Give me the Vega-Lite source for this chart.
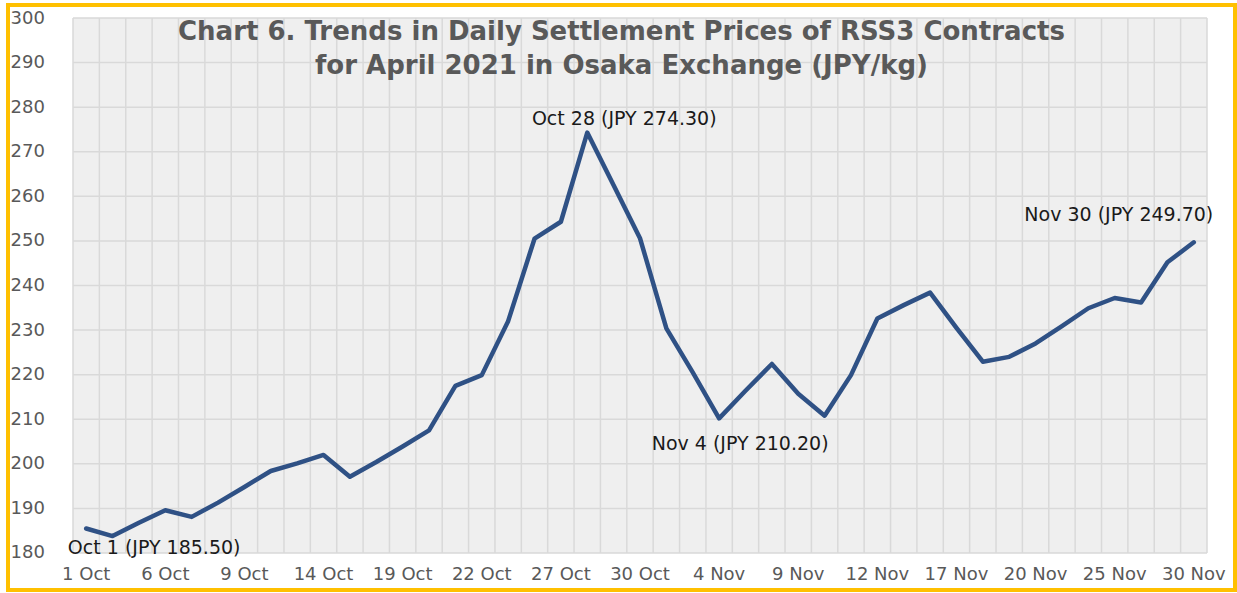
{
  "$schema": "https://vega.github.io/schema/vega-lite/v6.json",
  "width": 1227,
  "height": 585,
  "autosize": {"type": "none"},
  "padding": {"left": 8, "top": 5, "right": 2, "bottom": 3},
  "background": "white",
  "config": {
    "font": "DejaVu Sans",
    "view": {"fill": "white", "stroke": "#FFC000", "strokeWidth": 4}
  },
  "title": {
    "text": ["Chart 6. Trends in Daily Settlement Prices of RSS3 Contracts", "for April 2021 in Osaka Exchange (JPY/kg)"],
    "fontSize": 26,
    "fontWeight": "bold",
    "color": "#595959",
    "anchor": "middle",
    "baseline": "top",
    "lineHeight": 34,
    "offset": -74
  },
  "datasets": {
    "prices": [
      {"date": "1 Oct", "price": 185.5},
      {"date": "4 Oct", "price": 183.8},
      {"date": "5 Oct", "price": 186.8},
      {"date": "6 Oct", "price": 189.6},
      {"date": "7 Oct", "price": 188.1},
      {"date": "8 Oct", "price": 191.3},
      {"date": "9 Oct", "price": 194.8},
      {"date": "12 Oct", "price": 198.4},
      {"date": "13 Oct", "price": 200.1},
      {"date": "14 Oct", "price": 202.0},
      {"date": "15 Oct", "price": 197.1},
      {"date": "18 Oct", "price": 200.4},
      {"date": "19 Oct", "price": 203.9},
      {"date": "20 Oct", "price": 207.5},
      {"date": "21 Oct", "price": 217.5},
      {"date": "22 Oct", "price": 219.9},
      {"date": "25 Oct", "price": 232.0},
      {"date": "26 Oct", "price": 250.5},
      {"date": "27 Oct", "price": 254.3},
      {"date": "28 Oct", "price": 274.3},
      {"date": "29 Oct", "price": 262.5},
      {"date": "30 Oct", "price": 250.6},
      {"date": "2 Nov", "price": 230.4},
      {"date": "3 Nov", "price": 220.5},
      {"date": "4 Nov", "price": 210.2},
      {"date": "5 Nov", "price": 216.4},
      {"date": "8 Nov", "price": 222.4},
      {"date": "9 Nov", "price": 215.7},
      {"date": "10 Nov", "price": 210.8},
      {"date": "11 Nov", "price": 219.9},
      {"date": "12 Nov", "price": 232.6},
      {"date": "15 Nov", "price": 235.6},
      {"date": "16 Nov", "price": 238.4},
      {"date": "17 Nov", "price": 230.5},
      {"date": "18 Nov", "price": 222.9},
      {"date": "19 Nov", "price": 224.0},
      {"date": "20 Nov", "price": 227.0},
      {"date": "23 Nov", "price": 230.9},
      {"date": "24 Nov", "price": 234.9},
      {"date": "25 Nov", "price": 237.2},
      {"date": "26 Nov", "price": 236.2},
      {"date": "29 Nov", "price": 245.2},
      {"date": "30 Nov", "price": 249.7}
    ],
    "levels": [
      {"level": 180}, {"level": 190}, {"level": 200}, {"level": 210}, {"level": 220},
      {"level": 230}, {"level": 240}, {"level": 250}, {"level": 260}, {"level": 270},
      {"level": 280}, {"level": 290}, {"level": 300}
    ]
  },
  "data": {"name": "prices"},
  "encoding": {
    "x": {
      "field": "date",
      "type": "ordinal",
      "sort": null,
      "scale": {
        "type": "band",
        "domain": ["1 Oct", "4 Oct", "5 Oct", "6 Oct", "7 Oct", "8 Oct", "9 Oct", "12 Oct", "13 Oct", "14 Oct", "15 Oct", "18 Oct", "19 Oct", "20 Oct", "21 Oct", "22 Oct", "25 Oct", "26 Oct", "27 Oct", "28 Oct", "29 Oct", "30 Oct", "2 Nov", "3 Nov", "4 Nov", "5 Nov", "8 Nov", "9 Nov", "10 Nov", "11 Nov", "12 Nov", "15 Nov", "16 Nov", "17 Nov", "18 Nov", "19 Nov", "20 Nov", "23 Nov", "24 Nov", "25 Nov", "26 Nov", "29 Nov", "30 Nov"],
        "range": [65, 1199],
        "paddingInner": 0,
        "paddingOuter": 0
      },
      "title": null,
      "axis": {
        "values": ["1 Oct", "6 Oct", "9 Oct", "14 Oct", "19 Oct", "22 Oct", "27 Oct", "30 Oct", "4 Nov", "9 Nov", "12 Nov", "17 Nov", "20 Nov", "25 Nov", "30 Nov"],
        "offset": -37,
        "labelAngle": 0,
        "labelFontSize": 18,
        "labelColor": "#595959",
        "labelPadding": 12,
        "ticks": false,
        "tickSize": 0,
        "domain": false,
        "grid": false,
        "labelOverlap": false
      }
    },
    "y": {
      "field": "price",
      "type": "quantitative",
      "scale": {"domain": [171.7, 302.92], "nice": false, "zero": false},
      "title": null,
      "axis": {
        "values": [180, 190, 200, 210, 220, 230, 240, 250, 260, 270, 280, 290, 300],
        "offset": -65,
        "labelAlign": "left",
        "labelPadding": 63,
        "labelFontSize": 18,
        "labelColor": "#595959",
        "ticks": false,
        "tickSize": 0,
        "domain": false,
        "grid": false
      }
    }
  },
  "layer": [
    {
      "mark": {"type": "rect", "color": "#EFEFEF"},
      "encoding": {
        "y": {"datum": 180, "type": "quantitative"},
        "y2": {"datum": 300}
      }
    },
    {
      "mark": {"type": "rule", "color": "#D9D9D9", "strokeWidth": 1.5},
      "encoding": {
        "x": {"field": "date", "type": "ordinal", "sort": null, "bandPosition": 0, "title": null},
        "y": {"datum": 180, "type": "quantitative"},
        "y2": {"datum": 300}
      }
    },
    {
      "transform": [{"filter": "datum.date === '30 Nov'"}],
      "mark": {"type": "rule", "color": "#D9D9D9", "strokeWidth": 1.5},
      "encoding": {
        "x": {"field": "date", "type": "ordinal", "sort": null, "bandPosition": 1, "title": null},
        "y": {"datum": 180, "type": "quantitative"},
        "y2": {"datum": 300}
      }
    },
    {
      "data": {"name": "levels"},
      "mark": {"type": "rule", "color": "#D9D9D9", "strokeWidth": 1.5},
      "encoding": {
        "x": {"datum": "1 Oct", "type": "ordinal", "bandPosition": 0},
        "x2": {"datum": "30 Nov", "bandPosition": 1},
        "y": {"field": "level", "type": "quantitative"}
      }
    },
    {
      "mark": {"type": "line", "color": "#2F5185", "strokeWidth": 4.5, "strokeJoin": "round", "strokeCap": "round"},
      "encoding": {}
    },
    {
      "transform": [{"filter": "datum.date === '1 Oct'"}],
      "mark": {"type": "text", "fontSize": 19, "color": "#1A1A1A", "dx": 68, "dy": 20},
      "encoding": {"text": {"value": "Oct 1 (JPY 185.50)"}}
    },
    {
      "transform": [{"filter": "datum.date === '28 Oct'"}],
      "mark": {"type": "text", "fontSize": 19, "color": "#1A1A1A", "dx": 37, "dy": -14},
      "encoding": {"text": {"value": "Oct 28 (JPY 274.30)"}}
    },
    {
      "transform": [{"filter": "datum.date === '4 Nov'"}],
      "mark": {"type": "text", "fontSize": 19, "color": "#1A1A1A", "dx": 21, "dy": 26},
      "encoding": {"text": {"value": "Nov 4 (JPY 210.20)"}}
    },
    {
      "transform": [{"filter": "datum.date === '30 Nov'"}],
      "mark": {"type": "text", "fontSize": 19, "color": "#1A1A1A", "dx": -75, "dy": -27},
      "encoding": {"text": {"value": "Nov 30 (JPY 249.70)"}}
    }
  ]
}
